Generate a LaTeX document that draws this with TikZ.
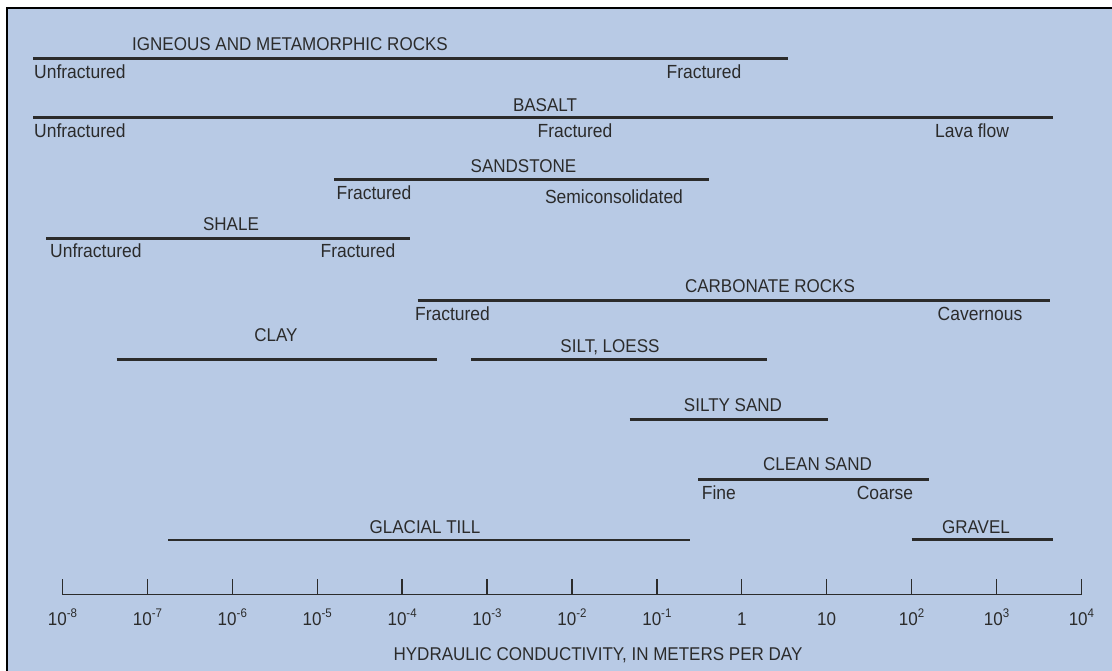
\documentclass[tikz,border=0pt]{standalone}
\usepackage{fontspec}
\setmainfont[FakeStretch=0.92]{Liberation Sans}
\definecolor{bg}{HTML}{B8CAE5}
\definecolor{ink}{HTML}{2B2B2B}
\begin{document}
\begin{tikzpicture}[x=1pt,y=-1pt,
  captxt/.style={inner sep=0pt, anchor=base, text=ink, font=\fontsize{18.5}{20}\selectfont},
  subtxt/.style={inner sep=0pt, anchor=base, text=ink, font=\fontsize{19}{20}\selectfont},
  subleft/.style={subtxt, anchor=base west},
  rangebar/.style={draw=ink, line width=2.9pt},
  axisline/.style={draw=ink, line width=1.4pt},
  tickline/.style={draw=ink, line width=1.4pt},
  ticklbl/.style={inner sep=0pt, anchor=base, text=ink, font=\fontsize{18.5}{20}\selectfont}]
\useasboundingbox (0,0) rectangle (1112,671);
\fill[white] (0,0) rectangle (1112,671);
\fill[bg] (7,8) rectangle (1112,671);
\draw[black, line width=2pt] (6.8,671) -- (6.8,8.3) -- (1112,8.3);

% IGNEOUS AND METAMORPHIC ROCKS
\coordinate (igA) at (33,58.3); \coordinate (igB) at (788,58.3);
\draw[rangebar] (igA) -- (igB);
\node[captxt] (igT) at (290,50.5) {IGNEOUS AND METAMORPHIC ROCKS};
\node[subleft] (igU) at (34,79) {Unfractured};
\node[subtxt] (igF) at (704,79) {Fractured};

% BASALT
\coordinate (baA) at (33,117.5); \coordinate (baB) at (1053,117.5);
\draw[rangebar] (baA) -- (baB);
\node[captxt] (baT) at (545,111.5) {BASALT};
\node[subleft] (baU) at (34,138) {Unfractured};
\node[subtxt] (baF) at (575,138) {Fractured};
\node[subtxt] (baL) at (972,138) {Lava flow};

% SANDSTONE
\coordinate (saA) at (334,179.3); \coordinate (saB) at (709,179.3);
\draw[rangebar] (saA) -- (saB);
\node[captxt] (saT) at (523.5,172.5) {SANDSTONE};
\node[subtxt] (saF) at (374,199.5) {Fractured};
\node[subtxt] (saS) at (614,203.5) {Semiconsolidated};

% SHALE
\coordinate (shA) at (46,238.3); \coordinate (shB) at (410,238.3);
\draw[rangebar] (shA) -- (shB);
\node[captxt] (shT) at (231,230.5) {SHALE};
\node[subleft] (shU) at (50,257.5) {Unfractured};
\node[subtxt] (shF) at (358,257.5) {Fractured};

% CARBONATE ROCKS
\coordinate (caA) at (417.7,300.7); \coordinate (caB) at (1050,300.7);
\draw[rangebar] (caA) -- (caB);
\node[captxt] (caT) at (770,292.5) {CARBONATE ROCKS};
\node[subtxt] (caF) at (452.5,320.5) {Fractured};
\node[subtxt] (caC) at (980,320.5) {Cavernous};

% CLAY
\coordinate (clA) at (116.7,359.5); \coordinate (clB) at (437.3,359.5);
\draw[rangebar] (clA) -- (clB);
\node[captxt] (clT) at (276,341.5) {CLAY};

% SILT, LOESS
\coordinate (siA) at (471,359.5); \coordinate (siB) at (767,359.5);
\draw[rangebar] (siA) -- (siB);
\node[captxt] (siT) at (610,352.5) {SILT, LOESS};

% SILTY SAND
\coordinate (ssA) at (629.7,419.3); \coordinate (ssB) at (827.7,419.3);
\draw[rangebar] (ssA) -- (ssB);
\node[captxt] (ssT) at (733,411.5) {SILTY SAND};

% CLEAN SAND
\coordinate (csA) at (698,479.7); \coordinate (csB) at (928.7,479.7);
\draw[rangebar] (csA) -- (csB);
\node[captxt] (csT) at (817.5,470.5) {CLEAN SAND};
\node[subleft] (csF) at (701.7,499.5) {Fine};
\node[subtxt] (csC) at (885,499.5) {Coarse};

% GLACIAL TILL
\coordinate (gtA) at (168,540); \coordinate (gtB) at (690,540);
\draw[rangebar] (gtA) -- (gtB);
\node[captxt] (gtT) at (425,533.5) {GLACIAL TILL};

% GRAVEL
\coordinate (grA) at (911.7,539.7); \coordinate (grB) at (1052.7,539.7);
\draw[rangebar] (grA) -- (grB);
\node[captxt] (grT) at (976,533.5) {GRAVEL};

% Axis
\coordinate (axA) at (62.5,594.6); \coordinate (axB) at (1081.4,594.6);
\draw[axisline] (axA) -- (axB);
\foreach \k/\lab in {0/{10\raisebox{0.42em}{\fontsize{12.5}{13}\selectfont -8}},
                     1/{10\raisebox{0.42em}{\fontsize{12.5}{13}\selectfont -7}},
                     2/{10\raisebox{0.42em}{\fontsize{12.5}{13}\selectfont -6}},
                     3/{10\raisebox{0.42em}{\fontsize{12.5}{13}\selectfont -5}},
                     4/{10\raisebox{0.42em}{\fontsize{12.5}{13}\selectfont -4}},
                     5/{10\raisebox{0.42em}{\fontsize{12.5}{13}\selectfont -3}},
                     6/{10\raisebox{0.42em}{\fontsize{12.5}{13}\selectfont -2}},
                     7/{10\raisebox{0.42em}{\fontsize{12.5}{13}\selectfont -1}},
                     8/{1},
                     9/{10},
                     10/{10\raisebox{0.42em}{\fontsize{12.5}{13}\selectfont 2}},
                     11/{10\raisebox{0.42em}{\fontsize{12.5}{13}\selectfont 3}},
                     12/{10\raisebox{0.42em}{\fontsize{12.5}{13}\selectfont 4}}} {
  \coordinate (tb\k) at ({62.5+84.91*\k},594.6);
  \coordinate (tt\k) at ({62.5+84.91*\k},578.6);
  \draw[tickline] (tb\k) -- (tt\k);
  \node[ticklbl] (tl\k) at ({62.5+84.91*\k},625.5) {\lab};
}
\node[captxt] (axT) at (598,660) {HYDRAULIC CONDUCTIVITY, IN METERS PER DAY};
\end{tikzpicture}
\end{document}
